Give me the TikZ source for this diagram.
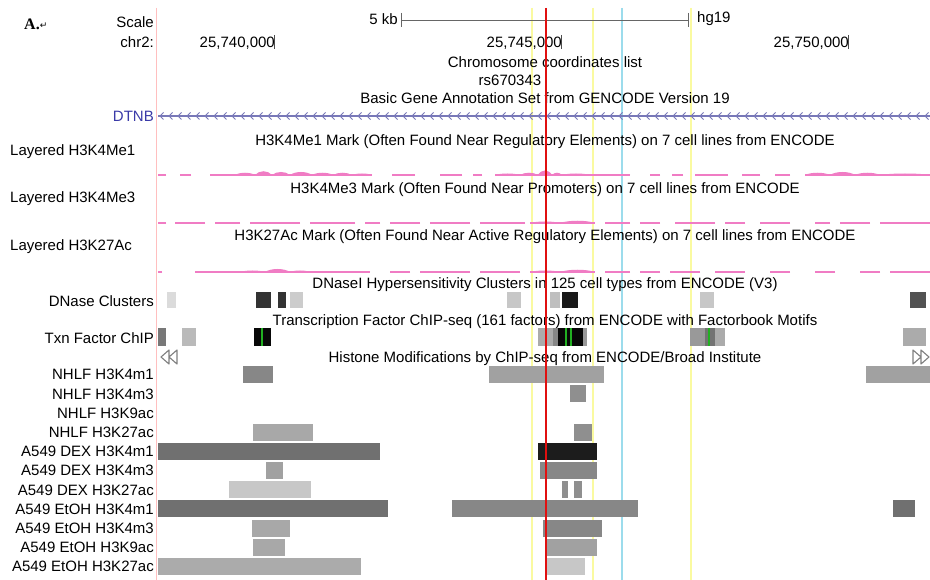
\documentclass[tikz,border=0pt]{standalone}
\usepackage{fontspec}
\setmainfont{Liberation Sans}
\newfontfamily\serifA{Liberation Serif}
\newfontfamily\symA{DejaVu Sans}
\definecolor{sigpink}{HTML}{F07CC4}
\definecolor{redmark}{HTML}{E01010}
\definecolor{hiyel}{HTML}{FAFAA0}
\definecolor{hicyan}{HTML}{9CDCEC}
\definecolor{genecol}{HTML}{3A3AA8}
\definecolor{geneline}{HTML}{7878B8}
\definecolor{tfgreen}{HTML}{22B022}

\newcommand\sigtrack[2]{%
  \foreach \xa/\xb/\h in {#2}{
    \draw[sigpink, line width=1.1pt] (\xa,#1) -- (\xb,#1);
    \fill[sigpink] (\xa,#1) .. controls ({\xa+(\xb-\xa)/4},{#1-\h}) and ({\xb-(\xb-\xa)/4},{#1-\h}) .. (\xb,#1) -- cycle;
  }}

\begin{document}
\begin{tikzpicture}[x=1pt,y=-1pt,line join=round,
  lbl/.style={font=\fontsize{15}{17}\selectfont, inner sep=0pt, text height=10.7pt, text depth=0pt},
  ttl/.style={lbl, anchor=center},
  rowlbl/.style={lbl, anchor=east},
  guide/.style={line width=1.2pt}]
\useasboundingbox[fill=white] (0,0) rectangle (930,580);

% highlight lines behind everything
\draw[red!25, line width=0.8pt] (156,8) -- (156,580);
\foreach \x in {532,593,691}
  \draw[hiyel, guide] (\x,8) -- (\x,580);
\draw[hicyan, guide] (622,8) -- (622,580);

% panel letter and ruler
\node[anchor=west, inner sep=0pt] (panel) at (24,24)
  {\serifA\bfseries\fontsize{16}{18}\selectfont A.\raisebox{1pt}{\symA\mdseries\fontsize{9}{10}\selectfont ↵}};
\node[rowlbl] (scale) at (154,22) {Scale};
\node[rowlbl] (chr) at (154,42) {chr2:};
\coordinate (sba) at (401,20);
\coordinate (sbb) at (688,20);
\draw[black!60, line width=0.9pt] (sba) -- (sbb);
\draw[black!60, line width=0.9pt] (401,13) -- (401,27) (688,13) -- (688,27);
\node[lbl, anchor=east] (kb) at (398,19) {5 kb};
\node[lbl, anchor=west] (hg) at (697,17) {hg19};
\foreach \x/\t [count=\i] in {274/{25,740,000},561/{25,745,000},848/{25,750,000}}{
  \node[lbl, anchor=east] (pos\i) at (\x+1,42) {\t};
  \draw[black!70, line width=0.8pt] (\x,35) -- (\x,49);
}
\node[ttl] (coords) at (545,62) {Chromosome coordinates list};
\node[ttl] (snp) at (510,80) {rs670343};
\node[ttl] (gencode) at (545,98) {Basic Gene Annotation Set from GENCODE Version 19};

% gene
\node[rowlbl, text=genecol] (dtnb) at (154,116) {DTNB};
\draw[geneline, line width=1.1pt] (158,116) -- (930,116);
\foreach \x in {160,169,...,928}
  \draw[geneline, line width=0.8pt] (\x+3.5,112.5) -- (\x,116) -- (\x+3.5,119.5);

% signal tracks
\node[lbl, anchor=west] (me1) at (10,150) {Layered H3K4Me1};
\node[ttl] (me1t) at (545,140) {H3K4Me1 Mark (Often Found Near Regulatory Elements) on 7 cell lines from ENCODE};
\sigtrack{175}{158/166/0, 180/191/0, 210/235/1, 235/255/3, 255/272/5, 272/290/4, 290/312/4, 312/333/3, 333/352/3, 352/372/2, 392/415/0, 440/462/0, 473/482/0, 495/520/2, 520/538/3, 538/552/6, 552/562/3, 562/590/2, 590/630/1, 650/660/0, 672/683/0, 695/728/0, 742/760/0, 775/790/0, 805/830/3, 830/855/4, 855/880/3, 880/930/2}
\node[lbl, anchor=west] (me3) at (10,197) {Layered H3K4Me3};
\node[ttl] (me3t) at (545,188) {H3K4Me3 Mark (Often Found Near Promoters) on 7 cell lines from ENCODE};
\sigtrack{223}{158/166/0, 175/205/0, 215/240/0, 250/300/0, 310/355/0, 365/380/0, 390/420/0, 430/470/0, 480/525/0, 530/560/2, 560/595/3, 605/630/0, 640/660/0, 675/715/0, 725/745/0, 760/790/0, 815/830/0, 840/870/0, 880/930/1}
\node[lbl, anchor=west] (ac) at (10,245) {Layered H3K27Ac};
\node[ttl] (act) at (545,235) {H3K27Ac Mark (Often Found Near Active Regulatory Elements) on 7 cell lines from ENCODE};
\sigtrack{272}{158/162/0, 195/240/1, 240/265/2, 265/290/4, 290/310/2, 310/370/1, 390/410/0, 420/470/0, 480/520/0, 530/560/2, 560/595/3, 605/630/0, 640/660/0, 670/700/0, 715/745/0, 770/790/0, 815/835/0, 860/880/0, 890/930/1}

% DNase clusters
\node[ttl] (dnt) at (545,283) {DNaseI Hypersensitivity Clusters in 125 cell types from ENCODE (V3)};
\node[rowlbl] (dn) at (154,301) {DNase Clusters};
\foreach \xa/\xb/\k in {167/176/14, 256/271/80, 278/286/80, 290/303/20, 507/521/22, 550/560/25, 562/578/90, 700/714/22, 910/926/68}
  \fill[black!\k] (\xa,292) rectangle (\xb,308);

% transcription factors
\node[ttl] (tft) at (545,320) {Transcription Factor ChIP-seq (161 factors) from ENCODE with Factorbook Motifs};
\node[rowlbl] (tf) at (154,338) {Txn Factor ChIP};
\foreach \xa/\xb/\k in {158/166/53, 182/196/27, 254/271/97, 538/553/33, 553/558/47, 558/583/97, 583/587/40, 690/705/40, 705/715/55, 715/725/33, 903/926/33}
  \fill[black!\k] (\xa,328) rectangle (\xb,346);
\foreach \x in {262,566,571,709}
  \draw[tfgreen, line width=1.2pt] (\x,328) -- (\x,346);

% histone modifications
\node[ttl] (hmt) at (545,357) {Histone Modifications by ChIP-seq from ENCODE/Broad Institute};
\draw[black!50, line width=1.1pt] (169,350) -- (161,357) -- (169,364) -- cycle (177,350) -- (169,357) -- (177,364) -- cycle;
\draw[black!50, line width=1.1pt] (913,350) -- (921,357) -- (913,364) -- cycle (921,350) -- (929,357) -- (921,364) -- cycle;
\foreach \t [count=\i from 0] in {NHLF H3K4m1, NHLF H3K4m3, NHLF H3K9ac, NHLF H3K27ac, A549 DEX H3K4m1, A549 DEX H3K4m3, A549 DEX H3K27ac, A549 EtOH H3K4m1, A549 EtOH H3K4m3, A549 EtOH H3K9ac, A549 EtOH H3K27ac}
  \node[rowlbl] (h\i) at (154,374.5+19.2*\i) {\t};
\foreach \r/\xa/\xb/\k in {0/243/273/47, 0/489/604/37, 0/866/930/37,
    1/570/586/44,
    3/253/313/34, 3/574/592/44,
    4/158/380/56, 4/538/597/89,
    5/266/283/37, 5/540/597/47,
    6/229/311/22, 6/562/568/44, 6/574/582/44,
    7/158/388/56, 7/452/638/47, 7/893/915/56,
    8/252/290/34, 8/543/602/47,
    9/253/285/34, 9/547/597/37,
    10/158/361/33, 10/547/585/22}{
  \pgfmathsetmacro\yc{374.5+19.2*\r}
  \fill[black!\k] (\xa,\yc-8.5) rectangle (\xb,\yc+8.5);
}

% the SNP position on top
\draw[redmark, line width=2pt] (546,8) -- (546,580);
\end{tikzpicture}
\end{document}
